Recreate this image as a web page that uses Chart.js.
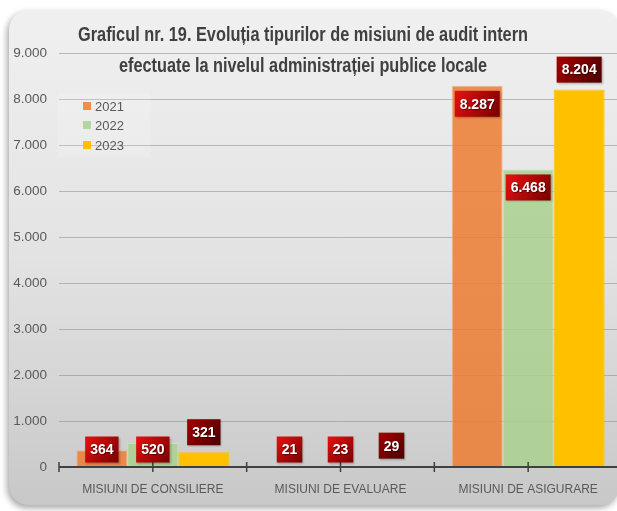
<!DOCTYPE html>
<html>
<head>
<meta charset="utf-8">
<script src="https://cdn.jsdelivr.net/npm/chart.js@4.4.0/dist/chart.umd.min.js"></script>
<style>
html,body{margin:0;padding:0;overflow:hidden;background:#fff;width:617px;height:511px;}
#wrap{width:630px;height:511px;}
canvas{display:block;}
</style>
</head>
<body>
<div id="wrap"><canvas id="c" width="630" height="511"></canvas></div>
<script>
const categories = ['MISIUNI DE CONSILIERE', 'MISIUNI DE EVALUARE', 'MISIUNI DE ASIGURARE'];
const years = ['2021', '2022', '2023'];
const v2021 = [364, 21, 8287];
const v2022 = [520, 23, 6468];
const v2023 = [321, 29, 8204];
const titleLines = ['Graficul nr. 19. Evoluția tipurilor de misiuni de audit intern',
                    'efectuate la nivelul administrației publice locale'];
const yMax = 9000;
const yStep = 1000;

const FONT = "'Liberation Sans', Arial, sans-serif";
const fmt = v => String(Math.round(v)).replace(/\B(?=(\d{3})+(?!\d))/g, '.');

const barColors = ['rgba(237,125,49,0.85)', 'rgba(169,209,142,0.85)', '#FFC000'];
const barBorders = ['rgba(246,180,135,0.9)', 'rgba(200,228,182,0.9)', '#FFC000'];
const labelGrad = [['#e81010', '#780000'], ['#e81010', '#780000'], ['#a80000', '#4a0000']];

const bgPlugin = {
  id: 'bg',
  beforeDraw(chart) {
    const ctx = chart.ctx;
    ctx.save();
    ctx.fillStyle = '#ffffff';
    ctx.fillRect(0, 0, chart.width, chart.height);
    const x = 9, y = 10, w = 611, h = 495, r = 20;
    ctx.shadowColor = 'rgba(0,0,0,0.35)';
    ctx.shadowBlur = 6;
    ctx.shadowOffsetX = -2;
    ctx.shadowOffsetY = 3;
    const g = ctx.createLinearGradient(0, y, 0, y + h);
    g.addColorStop(0, '#f0f0f0');
    g.addColorStop(0.5, '#e3e3e3');
    g.addColorStop(1, '#c8c8c8');
    ctx.fillStyle = g;
    ctx.beginPath();
    ctx.roundRect(x, y, w, h, r);
    ctx.fill();
    ctx.restore();
  }
};

const axisPlugin = {
  id: 'axisline',
  afterDatasetsDraw(chart) {
    const ctx = chart.ctx;
    const xs = chart.scales.x;
    const ys = chart.scales.y;
    const y0 = ys.getPixelForValue(0);
    ctx.save();
    ctx.strokeStyle = '#404040';
    ctx.lineWidth = 2;
    ctx.beginPath();
    ctx.moveTo(xs.left, y0);
    ctx.lineTo(xs.right, y0);
    ctx.stroke();
    ctx.lineWidth = 1.5;
    const n = categories.length;
    const cw = (xs.right - xs.left) / n;
    for (let i = 0; i <= n; i++) {
      const bx = xs.left + i * cw;
      ctx.beginPath(); ctx.moveTo(bx, y0 - 5); ctx.lineTo(bx, y0 + 5); ctx.stroke();
      if (i < n) {
        const cx = xs.getPixelForValue(i);
        ctx.beginPath(); ctx.moveTo(cx, y0 - 5); ctx.lineTo(cx, y0 + 5); ctx.stroke();
      }
    }
    ctx.restore();
  }
};

const labelPlugin = {
  id: 'vlabels',
  afterDatasetsDraw(chart) {
    const ctx = chart.ctx;
    ctx.save();
    ctx.font = 'bold 14px ' + FONT;
    ctx.textAlign = 'center';
    ctx.textBaseline = 'middle';
    chart.data.datasets.forEach((ds, di) => {
      const meta = chart.getDatasetMeta(di);
      meta.data.forEach((el, i) => {
        const txt = fmt(ds.data[i]);
        const tw = ctx.measureText(txt).width;
        const bw = tw + 10, bh = 26;
        let cy;
        if (di < 2) cy = Math.min(el.y + 18, el.base - 17);
        else cy = el.y - 20;
        const bx = el.x - bw / 2, by = cy - bh / 2;
        const g = ctx.createLinearGradient(bx, by, bx + bw, by + bh);
        g.addColorStop(0, labelGrad[di][0]);
        g.addColorStop(1, labelGrad[di][1]);
        ctx.shadowColor = 'rgba(0,0,0,0.25)';
        ctx.shadowBlur = 2; ctx.shadowOffsetX = 1; ctx.shadowOffsetY = 1;
        ctx.fillStyle = g;
        ctx.fillRect(bx, by, bw, bh);
        ctx.shadowColor = 'rgba(0,0,0,0.5)';
        ctx.shadowBlur = 1;
        ctx.fillStyle = '#ffffff';
        ctx.fillText(txt, el.x, cy + 1);
        ctx.shadowColor = 'transparent';
      });
    });
    ctx.restore();
  }
};

const overlayPlugin = {
  id: 'overlay',
  afterDraw(chart) {
    const ctx = chart.ctx;
    ctx.save();
    // title
    ctx.fillStyle = '#404040';
    ctx.textAlign = 'center';
    ctx.textBaseline = 'alphabetic';
    ctx.font = 'bold 20px ' + FONT;
    const targets = [[303, 41, 450], [303, 72, 368]];
    titleLines.forEach((t, i) => {
      const [cx, by, tw] = targets[i];
      const w = ctx.measureText(t).width;
      const s = tw / w;
      ctx.save();
      ctx.translate(cx, by);
      ctx.scale(s, 1);
      ctx.fillText(t, 0, 0);
      ctx.restore();
    });
    // legend
    ctx.fillStyle = 'rgba(255,255,255,0.15)';
    ctx.fillRect(58, 93, 92, 64);
    ctx.font = '13px ' + FONT;
    ctx.textAlign = 'left';
    ctx.textBaseline = 'middle';
    const ly = [106, 125, 145];
    years.forEach((yr, i) => {
      ctx.fillStyle = barColors[i];
      ctx.fillRect(83, ly[i] - 4, 8, 8);
      ctx.fillStyle = '#595959';
      ctx.fillText(yr, 95, ly[i] + 1);
    });
    ctx.restore();
  }
};

const datasets = [v2021, v2022, v2023].map((d, i) => ({
  label: years[i],
  data: d,
  backgroundColor: barColors[i],
  borderColor: barBorders[i],
  borderWidth: 1,
  barPercentage: 1.0,
  categoryPercentage: 0.815
}));

new Chart(document.getElementById('c'), {
  type: 'bar',
  data: { labels: categories, datasets },
  options: {
    responsive: false,
    animation: false,
    devicePixelRatio: 1,
    layout: { padding: { left: 0, right: 8, top: 53, bottom: 0 } },
    plugins: { legend: { display: false }, title: { display: false }, tooltip: { enabled: false } },
    scales: {
      x: {
        offset: true,
        grid: { display: false, drawTicks: false },
        border: { display: false },
        ticks: { color: '#595959', font: { family: FONT, size: 12 }, padding: 15, maxRotation: 0, autoSkip: false },
        afterFit: s => { s.height = 44; }
      },
      y: {
        min: 0, max: yMax,
        grid: { color: 'rgba(140,140,140,0.55)', lineWidth: 1, drawTicks: false },
        border: { display: false },
        ticks: { stepSize: yStep, color: '#595959', font: { family: FONT, size: 13.5 }, padding: 12, callback: v => fmt(v) },
        afterFit: s => { s.width = 59; }
      }
    }
  },
  plugins: [bgPlugin, axisPlugin, labelPlugin, overlayPlugin]
});
</script>
</body>
</html>
